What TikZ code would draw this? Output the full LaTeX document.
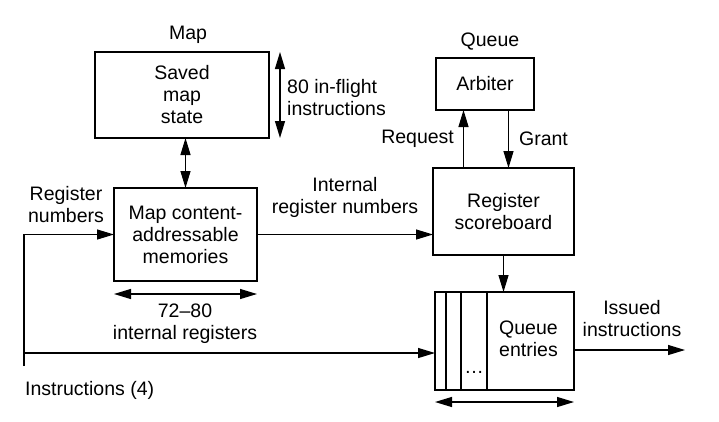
\documentclass[tikz,border=0pt]{standalone}
\usepackage{fontspec}
\setmainfont{Liberation Sans}
\usetikzlibrary{arrows.meta, positioning}
\tikzstyle{block} = [rectangle, draw=black, line width=1.2pt, inner sep=0pt, outer sep=0pt, align=center]
\tikzstyle{lbl} = [align=center, inner sep=0pt]
\tikzstyle{aro} = [-{Triangle[length=17pt,width=10pt]}, line width=1.2pt]
\tikzstyle{dbl} = [{Triangle[length=17pt,width=10pt]}-{Triangle[length=17pt,width=10pt]}, line width=1.2pt]
\tikzstyle{wire} = [line width=1.2pt]

\begin{document}
\begin{tikzpicture}[x=1pt, y=-1pt, every node/.style={font=\fontsize{19.5}{22}\selectfont}]

  \useasboundingbox[fill=white] (0,0) rectangle (719,421);

  % map side
  \node (saved) [block, minimum width=174pt, minimum height=86pt] at (182,95) {Saved\\map\\state};
  \node (maptitle) [lbl, above=8pt of saved, xshift=6pt] {Map};
  \node (cam) [block, minimum width=143pt, minimum height=93pt, below=50pt of saved, xshift=3.5pt] {Map content-\\addressable\\memories};

  % queue side
  \node (board) [block, minimum width=141pt, minimum height=87pt] at (503.5,211.5) {Register\\scoreboard};
  \node (arbiter) [block, minimum width=98pt, minimum height=52pt, above=58pt of board, xshift=-18.5pt] {Arbiter};
  \node (qtitle) [lbl, above=8pt of arbiter, xshift=5pt] {Queue};
  \node (queue) [block, minimum width=139pt, minimum height=98pt, below=37pt of board, xshift=1pt] {};
  \node (qtext) [lbl] at ([xshift=24pt, yshift=2pt]queue.center) {Queue\\entries};
  \node (dots) [lbl] at (474,372) {\dots};
  \foreach \dx in {11,26,52}
    \draw[wire] ([xshift=\dx pt]queue.north west) -- ([xshift=\dx pt]queue.south west);

  % labels
  \node (flight) [lbl, align=left, anchor=west] at (287,98) {80 in-flight\\instructions};
  \node (regnum) [lbl] at (66,205) {Register\\numbers};
  \node (intnum) [lbl] at (345,197) {Internal\\register numbers};
  \node (range) [lbl] at (185,324) {72--80\\internal registers};
  \node (instr) [lbl, anchor=west] at (25,390) {Instructions (4)};
  \node (issued) [lbl] at (632,319) {Issued\\instructions};

  \coordinate (in) at (24,366);
  \coordinate (split) at (24,353);
  \coordinate (out) at (685,350);

  % connectors
  \draw [dbl] (cam.north) -- (cam.north |- saved.south);
  \draw [dbl] ([xshift=11pt]saved.north east) -- ([xshift=11pt]saved.south east);
  \draw [aro] (in) |- (cam.west);
  \draw [aro] (split) -- (split -| queue.west);
  \draw [aro] (cam.east) -- (cam.east -| board.west);
  \draw [aro] ([xshift=-40pt]board.north) -- ([xshift=-40pt]board.north |- arbiter.south)
    node[lbl, midway, left=9pt] {Request};
  \draw [aro] ([xshift=5pt]board.north |- arbiter.south) -- ([xshift=5pt]board.north)
    node[lbl, midway, right=10pt] {Grant};
  \draw [aro] (board.south) -- (board.south |- queue.north);
  \draw [aro] (queue.east |- out) -- (out);
  \draw [dbl] ([yshift=-13pt]cam.south west) -- ([yshift=-13pt]cam.south east);
  \draw [dbl] ([yshift=-12pt]queue.south west) -- ([yshift=-12pt]queue.south east);

\end{tikzpicture}
\end{document}
